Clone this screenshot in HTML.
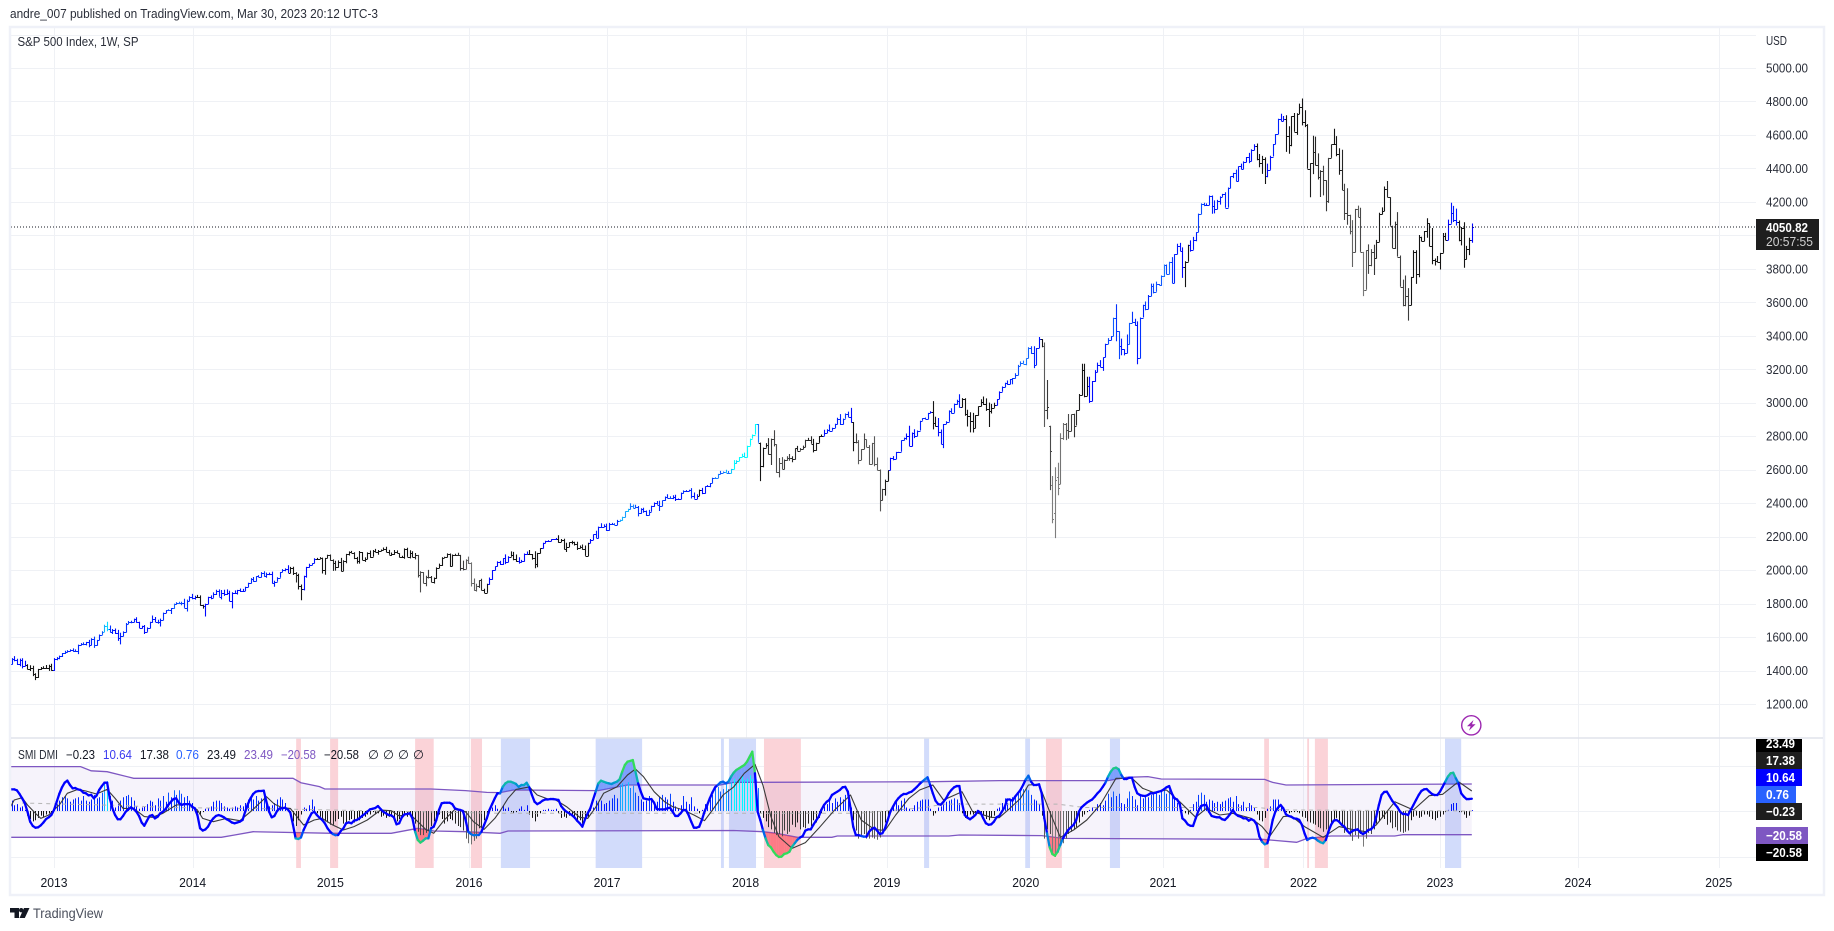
<!DOCTYPE html>
<html lang="en">
<head>
<meta charset="utf-8">
<title>S&amp;P 500 Index, 1W, SP</title>
<style>
html,body{margin:0;padding:0;background:#fff;width:1834px;height:931px;overflow:hidden}
svg{display:block;font-family:"Liberation Sans",sans-serif}
</style>
</head>
<body>
<svg id="chart" xmlns="http://www.w3.org/2000/svg" width="1834" height="931" viewBox="0 0 1834 931">
<defs>
<clipPath id="pane-clip"><rect x="11" y="28" width="1745" height="840"/></clipPath>
</defs>
<rect x="0" y="0" width="1834" height="931" fill="#ffffff"/>
<text x="10" y="18" font-size="13" fill="#2a2e39" textLength="368" lengthAdjust="spacingAndGlyphs">andre_007 published on TradingView.com, Mar 30, 2023 20:12 UTC-3</text>
<g id="grid-layer"></g>
<g id="shade-layer" clip-path="url(#pane-clip)"></g>
<g id="band-layer" clip-path="url(#pane-clip)"></g>
<g id="hist-layer" clip-path="url(#pane-clip)"></g>
<g id="line-layer" clip-path="url(#pane-clip)"></g>
<g id="price-layer" clip-path="url(#pane-clip)"></g>
<line x1="11" y1="227" x2="1756" y2="227" stroke="#131722" stroke-width="1" stroke-dasharray="1 2"/>
<rect x="10" y="27" width="1814" height="868" fill="none" stroke="#eff1f8" stroke-width="2.5"/>
<line x1="11" y1="738" x2="1823" y2="738" stroke="#e0e3eb" stroke-width="1.5"/>
<text x="17.5" y="46" font-size="13" fill="#2a2e39" textLength="121" lengthAdjust="spacingAndGlyphs">S&amp;P 500 Index, 1W, SP</text>
<text x="1766" y="45" font-size="12.5" fill="#2a2e39" textLength="21" lengthAdjust="spacingAndGlyphs">USD</text>
<g id="price-axis"></g>
<g id="time-axis"></g>

<g>
<rect x="1756" y="219" width="63" height="31" fill="#1e1e1e"/>
<text x="1766" y="232" font-size="12.5" font-weight="bold" fill="#ffffff" textLength="42" lengthAdjust="spacingAndGlyphs">4050.82</text>
<text x="1766" y="246" font-size="12.5" fill="#d0d0d0" textLength="47" lengthAdjust="spacingAndGlyphs">20:57:55</text>
</g>

<g font-size="12.5">
<text x="18" y="759" fill="#2a2e39" textLength="40" lengthAdjust="spacingAndGlyphs">SMI DMI</text>
<text x="66" y="759" fill="#131722" textLength="29" lengthAdjust="spacingAndGlyphs">−0.23</text>
<text x="103" y="759" fill="#3a3af0" textLength="29" lengthAdjust="spacingAndGlyphs">10.64</text>
<text x="140" y="759" fill="#131722" textLength="29" lengthAdjust="spacingAndGlyphs">17.38</text>
<text x="176" y="759" fill="#2962ff" textLength="23" lengthAdjust="spacingAndGlyphs">0.76</text>
<text x="207" y="759" fill="#131722" textLength="29" lengthAdjust="spacingAndGlyphs">23.49</text>
<text x="244" y="759" fill="#7e57c2" textLength="29" lengthAdjust="spacingAndGlyphs">23.49</text>
<text x="281" y="759" fill="#7e57c2" textLength="35" lengthAdjust="spacingAndGlyphs">−20.58</text>
<text x="324" y="759" fill="#131722" textLength="35" lengthAdjust="spacingAndGlyphs">−20.58</text>
<text x="368" y="759" fill="#131722">∅</text>
<text x="383" y="759" fill="#131722">∅</text>
<text x="398" y="759" fill="#131722">∅</text>
<text x="413" y="759" fill="#131722">∅</text>
</g>

<g font-size="13" font-weight="bold" fill="#ffffff">
<rect x="1756" y="739" width="46" height="13" fill="#000000"/>
<text x="1766" y="748" textLength="29" lengthAdjust="spacingAndGlyphs" fill="#ffffff">23.49</text>
<rect x="1756" y="752" width="46" height="17" fill="#1e1e1e"/>
<text x="1766" y="765" textLength="29" lengthAdjust="spacingAndGlyphs" fill="#ffffff">17.38</text>
<rect x="1756" y="769" width="46" height="17" fill="#0000ff"/>
<text x="1766" y="782" textLength="29" lengthAdjust="spacingAndGlyphs" fill="#ffffff">10.64</text>
<rect x="1756" y="786" width="40" height="17" fill="#2962ff"/>
<text x="1766" y="799" textLength="23" lengthAdjust="spacingAndGlyphs" fill="#ffffff">0.76</text>
<rect x="1756" y="803" width="46" height="17" fill="#1e1e1e"/>
<text x="1766" y="816" textLength="29" lengthAdjust="spacingAndGlyphs" fill="#ffffff">−0.23</text>
<rect x="1756" y="827" width="52" height="17" fill="#7e57c2"/>
<text x="1766" y="840" textLength="36" lengthAdjust="spacingAndGlyphs" fill="#ffffff">−20.58</text>
<rect x="1756" y="844" width="52" height="17" fill="#000000"/>
<text x="1766" y="857" textLength="36" lengthAdjust="spacingAndGlyphs" fill="#ffffff">−20.58</text>
</g>

<g>
<circle cx="1471.3" cy="725.3" r="9.6" fill="#ffffff" stroke="#9c27b0" stroke-width="1.4"/>
<polygon points="1473.5,720 1467,726.3 1470.6,726.3 1469,730.6 1475.6,724.3 1472,724.3" fill="#9c27b0"/>
</g>

<g>
<polygon points="10,908 19,908 19,918 14.5,918 14.5,912.5 10,912.5" fill="#131722"/>
<circle cx="21.2" cy="910.2" r="2.2" fill="#131722"/>
<polygon points="24,908 29.5,908 24.8,918 19.5,918" fill="#131722"/>
<text x="33" y="918" font-size="14" fill="#4a4f5c" textLength="70" lengthAdjust="spacingAndGlyphs">TradingView</text>
</g>
</svg>

<script>
// Weekly bars, first week ends 2012-09-07, 13 values per row (one quarter of a year).
const closes = [
1437,1466,1460,1441,1461,1428,1433,1412,1414,1379,1360,1409,1416,
1418,1413,1430,1402,1466,1472,1486,1503,1513,1518,1520,1516,1518,
1551,1561,1556,1569,1553,1588,1555,1582,1614,1633,1667,1650,1631,
1643,1626,1593,1606,1631,1680,1692,1692,1710,1691,1656,1664,1633,
1655,1688,1710,1692,1691,1703,1745,1760,1762,1771,1798,1804,1806,
1805,1775,1818,1841,1831,1842,1839,1790,1783,1797,1839,1836,1859,
1878,1841,1866,1857,1865,1816,1864,1863,1881,1878,1877,1900,1923,
1949,1936,1962,1961,1985,1967,1978,1978,1925,1931,1955,1988,2003,
2007,1985,2010,1982,1968,1906,1886,1965,2018,2032,2040,2064,2068,
2075,2002,2070,2089,2058,2045,2019,2051,1995,2055,2097,2110,2104,
2071,2053,2108,2061,2066,2102,2081,2117,2108,2116,2122,2126,2107,
2092,2094,2110,2101,2076,2076,2126,2079,2104,2077,2091,1971,1988,
1921,1961,1958,1931,1951,2014,2033,2075,2079,2099,2023,2089,2090,
2091,2012,2005,2060,2043,1922,1880,1906,1940,1880,1865,1917,1948,
1999,2022,2049,2035,2072,2047,2081,2091,2065,2057,2046,2052,2099,
2099,2096,2071,2037,2103,2130,2162,2175,2174,2183,2184,2184,2169,
2180,2128,2139,2165,2168,2154,2133,2141,2126,2085,2164,2182,2213,
2192,2260,2258,2264,2239,2277,2275,2271,2295,2297,2316,2351,2367,
2383,2373,2378,2344,2363,2356,2329,2349,2384,2399,2391,2382,2416,
2439,2432,2433,2438,2423,2425,2459,2473,2472,2477,2441,2426,2444,
2477,2461,2500,2502,2519,2549,2553,2575,2581,2588,2582,2578,2602,
2642,2652,2675,2683,2673,2743,2786,2810,2873,2762,2620,2732,2747,
2691,2786,2752,2588,2640,2604,2656,2670,2669,2663,2728,2713,2721,
2735,2779,2780,2755,2718,2760,2801,2802,2819,2840,2833,2850,2875,
2902,2872,2905,2930,2914,2885,2767,2767,2658,2723,2781,2736,2632,
2760,2633,2600,2416,2485,2531,2596,2671,2664,2706,2707,2775,2792,
2803,2743,2822,2800,2834,2892,2907,2905,2939,2945,2881,2859,2826,
2752,2873,2886,2950,2941,2990,3013,2976,3025,2932,2918,2888,2847,
2926,2978,3007,2992,2961,2952,2970,2986,3022,3066,3093,3120,3110,
3140,3145,3168,3221,3240,3234,3265,3329,3295,3225,3327,3380,3337,
2954,2972,2711,2304,2541,2488,2790,2875,2837,2830,2930,2864,2955,
3044,3194,3041,3098,3009,3130,3185,3225,3215,3271,3351,3373,3397,
3508,3427,3341,3319,3298,3348,3477,3484,3465,3270,3509,3585,3558,
3638,3699,3663,3709,3703,3756,3825,3768,3841,3714,3887,3935,3906,
3811,3842,3943,3913,3975,4019,4129,4185,4180,4181,4233,4174,4156,
4204,4230,4247,4166,4281,4352,4370,4327,4412,4395,4437,4468,4442,
4509,4535,4459,4432,4455,4357,4391,4471,4545,4605,4697,4682,4698,
4594,4538,4712,4620,4725,4766,4677,4662,4398,4431,4500,4418,4349,
4385,4329,4204,4463,4543,4546,4488,4392,4272,4132,4123,4024,3901,
4158,4109,3901,3675,3912,3825,3899,3863,3961,4130,4145,4280,4228,
4058,3924,4067,3873,3693,3586,3640,3583,3752,3901,3770,3992,3965,
4026,4072,3934,3852,3845,3839,3895,3999,3972,4070,4136,4090,4079,
3970,4045,3861,3917,3971,4050.82];

// Opens differ visibly from the prior close only in these crash weeks.
const openGapWeeks = [392,393,394,395,396];
const openGapValues = [2863,2509,2344,2558,2514];

// How far each week's high rises above its body.
const highWick = [
3,8,20,10,10,12,25,5,18,15,5,1,5,
8,15,5,10,8,8,3,2,5,3,6,12,8,
4,3,7,2,14,5,15,1,1,2,6,24,19,
5,8,17,20,3,4,4,5,0,8,0,3,8,
3,4,19,10,11,7,1,0,3,2,2,4,5,
5,24,6,3,17,5,10,10,3,2,2,10,8,
5,7,15,17,20,12,4,15,1,9,10,1,2,
3,10,1,7,3,8,7,7,13,5,2,1,3,
3,22,9,10,6,10,8,1,1,6,1,7,5,
3,0,3,3,4,6,11,7,22,4,0,2,5,
3,8,6,0,10,4,15,3,10,4,1,9,13,
14,11,10,8,0,10,4,7,15,9,11,0,5,
0,5,40,7,5,2,6,2,1,1,0,4,8,
13,0,45,4,21,3,28,12,0,8,9,2,8,
1,0,3,6,0,22,2,21,18,28,20,9,0,
12,21,0,42,0,1,1,1,3,1,1,8,24,
6,7,25,1,7,1,15,6,12,21,0,4,0,
22,0,20,9,14,5,5,5,5,5,3,0,0,
17,9,12,5,7,10,0,11,0,5,14,23,0,
1,14,8,9,12,3,4,3,5,3,13,23,9,
4,14,0,6,1,3,2,0,12,1,12,10,3,
15,4,1,12,19,0,0,0,0,0,0,0,12,
42,0,50,0,30,35,5,10,24,11,0,14,8,
9,0,10,20,29,1,0,8,20,2,30,0,0,
8,30,0,6,17,55,0,49,10,0,35,0,11,
0,40,40,1,0,10,0,0,10,0,0,0,0,
13,60,0,20,0,0,0,4,0,4,65,35,50,
14,0,4,4,17,5,5,38,3,2,26,25,51,
0,0,14,30,34,40,23,14,0,2,4,0,13,
2,2,8,5,7,12,1,3,9,42,0,13,0,
23,164,0,53,74,84,28,4,4,96,0,4,0,
8,39,39,57,57,0,10,15,30,0,1,13,1,
0,80,0,42,1,60,0,60,18,21,0,0,20,
6,13,13,15,0,4,1,1,1,29,0,15,20,
22,3,1,27,16,0,1,6,10,10,5,5,35,
8,3,1,11,5,0,3,23,0,17,5,0,25,
5,10,14,27,20,11,38,5,1,0,0,30,15,
20,58,0,19,5,21,52,70,3,0,95,90,72,
4,31,0,0,0,91,47,33,120,36,150,0,67,
0,20,56,0,0,34,19,45,12,5,22,12,45,
0,0,15,72,7,43,120,45,0,10,10,10,0,
0,30,0,110,10,32,0,15,16,24,59,40,70,
10,5,33,20,15,20];

// How far each week's low falls below its body.
const lowWick = [
5,1,4,8,15,15,2,5,15,12,17,4,5,
4,3,15,3,4,5,5,5,4,5,4,4,4,
20,1,4,6,14,3,20,6,1,1,3,15,4,
13,7,16,37,2,3,2,9,4,5,2,5,15,
2,3,3,2,12,28,2,1,1,24,2,4,1,
15,1,22,4,5,7,3,3,13,60,0,10,2,
8,0,16,11,5,2,45,4,9,9,7,2,2,
3,5,4,3,5,7,13,8,5,25,1,1,1,
10,2,4,11,42,22,66,7,10,3,3,0,0,
1,22,30,0,1,50,22,4,3,1,14,10,1,
5,14,14,1,12,1,7,1,1,16,3,4,0,
0,7,3,1,0,0,8,0,9,0,13,15,104,
0,18,8,4,11,3,2,8,3,3,3,0,0,
3,15,7,0,6,20,3,8,12,1,2,1,4,
5,1,1,4,4,11,0,1,6,7,7,1,1,
3,3,8,26,20,4,1,1,5,1,3,3,5,
1,4,20,1,11,7,13,3,4,0,1,3,2,
1,3,5,1,5,3,3,1,2,5,2,1,3,
5,5,2,23,7,13,5,3,0,5,1,29,1,
1,3,1,9,10,3,2,2,1,1,13,0,1,
1,7,4,0,7,0,0,3,3,0,0,3,0,
0,6,0,0,0,0,0,0,0,1,88,5,1,
0,63,13,6,34,2,2,2,15,19,3,0,0,
0,1,2,0,15,5,0,0,0,0,3,0,1,
5,5,2,1,0,5,57,10,25,0,0,1,2,
0,12,4,65,0,40,0,0,8,0,0,0,0,
13,2,4,11,0,0,0,3,4,2,40,1,27,
0,23,0,0,5,2,1,5,4,10,60,65,25,
0,3,0,5,10,97,16,1,2,0,0,1,2,
0,30,0,4,1,0,10,0,3,18,0,0,5,
99,53,233,24,153,41,0,12,60,45,0,70,0,
0,0,8,0,10,0,5,3,2,25,0,0,0,
0,60,80,35,15,2,0,0,5,40,5,0,5,
0,2,10,0,0,5,5,0,1,0,0,0,0,
65,120,0,10,0,10,0,3,5,0,0,45,25,
0,20,0,1,0,0,10,5,5,0,0,0,10,
0,1,10,25,65,50,10,0,0,0,0,0,0,
95,50,5,1,20,0,20,15,0,170,65,0,15,
120,90,60,10,0,0,15,30,1,40,60,18,90,
3,0,0,38,0,55,10,100,2,0,5,0,0,
0,0,5,0,0,9,10,92,0,5,60,20,0,
0,40,0,25,25,0,43,0,0,0,0,10,20,
5,30,55,5,35,15];

// SMI line, one value per week.
const smiValues = [
18.8,18.8,18.8,18,14.8,11,6.7,-0.6,-9.3,-13,-14.5,-14.2,-12.5,
-10,-7,-5.5,-3.5,1,8,15,20.6,24.6,26.4,22.6,19.7,20,
18.8,18.3,16,15.4,13.6,14,11,13.3,18.3,21.7,24.6,24.6,11,
2.3,-3.5,-7.2,-7.2,-4.3,-0.6,1.4,3.2,1.7,-0.6,-4.3,-10,-12.8,
-8.4,-4.3,-3.5,-6.4,-5,-2,-0.6,1.7,5.2,8,10.4,11,7.2,
5.2,6,6,6,3.8,2.3,-3.5,-15,-17,-16,-13.6,-9.3,-6.4,
-4.3,-3.5,-4.3,-5.5,-7.2,-8.4,-10,-10.7,-10,-9.3,-7.8,-0.6,6,
11,14.8,16.8,17.4,17.4,17.7,8,-0.6,-5.5,-4.3,0,2.3,2.3,
2.9,1.4,-1.4,-12,-23.8,-24.3,-23,-16.5,-11.6,-6.4,-2,-0.6,-3.5,
-5.8,-7.8,-10.7,-15,-18,-20,-21,-20.9,-17.4,-15,-10.7,-9.9,-10.7,
-8.4,-7.8,-6.4,-4.3,-2.6,-0.6,1.4,2,2.6,4.3,1.7,-0.6,-2,
-3.5,-3.8,-5.5,-11.6,-10.7,-5.5,-2.9,-2.6,-2,-6.4,-18,-25.2,-27.5,
-25.8,-23.8,-23.8,-15,-13.6,-7.8,0.9,6.7,7.2,7.2,7.2,6,2.3,
1.4,0.9,0,-7.8,-18,-20,-21,-20.9,-20.9,-18,-12,-6.4,0.9,
6,11,15.4,15.4,21,24,25.5,25.5,24.6,23.5,21,22.6,22.6,
24.6,20.6,13.9,8,6,7.2,9,10,10,10.4,10.4,10,9.6,
4.3,1.4,-0.6,-2,-3.5,-5.5,-8.4,-10.7,-13.6,-7.2,-2,2.3,9.6,
16.8,24,26.4,25.5,24.6,24,23.5,24.6,25.5,27.5,34.2,40,42.9,
43.5,44.3,34.2,24,16.8,11,10.4,10,10.4,7.2,1.7,1.4,1.4,
1.4,2.3,2.9,-0.6,-4.3,-4.3,-2,0.9,0.9,-3.5,-9.3,-14.5,-14.5,
-13.6,-7.8,-0.6,5.2,11,16.2,20.6,22.6,24.9,25.5,24,25.5,29.9,
33.3,35.7,37.1,38.6,40,42.9,47.2,51.6,32.8,-0.6,-7.8,-16.5,-23.8,
-29.6,-31.6,-35.4,-38.3,-40,-39.7,-37.4,-36.8,-35.4,-31,-28,-25,-23,
-21.7,-17,-16,-16,-12,-8.4,-5,0.9,5.2,8,9.6,13.9,15.4,
16.8,18.3,20.6,21,16.8,2.3,-13.6,-20.9,-21,-21.7,-22.3,-22.3,-18,
-15.7,-14.5,-17,-20,-19.4,-15,-7.8,-0.6,3.8,8,11,13.3,14.8,
14.8,16,16.8,18.8,21,23.5,25.5,27.5,29.3,22.6,15.4,9,6,
5.5,8,11,15.4,18.3,20.6,21.7,21.7,6.7,-3.5,-5.8,-7.2,-5.5,
-3.5,0,-1.4,-6.4,-10.7,-12,-11.6,-9.3,-5.5,-4.3,-0.6,3.2,10,
10,9,12.5,15.4,18.3,22.6,27.5,30.7,25.5,22.6,22.6,23.2,15.4,
-6.4,-19.4,-31.6,-37.4,-38.8,-35.4,-29.6,-23.8,-20,-16.5,-14.2,-12,-7.8,
-0.6,3.2,5.2,7.2,8.7,10,12.5,15.4,17.7,21,24.6,29.9,34.2,
37,37.7,36.2,31.3,27.8,27.8,29,29,21,15.4,13.9,13.3,13,
13.9,15.4,15.4,16,16.8,17.4,18.8,20.6,21.7,15.4,11,10,6,
-6.4,-8.4,-11.6,-12.8,-13,-6.4,0,4.3,5.2,5.2,-0.6,-4.3,-5,
-5.5,-5.5,-7.2,-7.8,-5.5,-2.6,0.9,-2.6,-4.3,-5,-6.4,-6.4,-8.4,
-7.2,-8.4,-12,-22.3,-26.7,-29,-28,-19.4,-7.8,-0.6,2.9,5.2,2.3,
-2.9,-4.3,-5,-6.4,-6.7,-7.8,-12,-19.4,-25.2,-23.8,-23.2,-23.8,-25.8,
-27.2,-28,-25.2,-18,-12,-8.4,-7.8,-9.3,-12,-13.6,-17,-19.4,-17.4,
-16.5,-16,-18.5,-20,-18.8,-16.5,-16,-13.6,-5,5.2,13.9,16.5,16.8,
13,9,6,3.2,-0.6,-2.6,-2.6,-3.5,0.9,5.2,9.6,13.9,17.4,
18.8,19.1,16.8,14.8,13.9,13.9,16.8,21,25.5,29.9,32.8,33.3,28.4,
24,15.4,12.5,10.4,10.4,10.64];

// Histogram, one value per week.
const histValues = [
11,9,5,6,3,4,1,-4,-7,-9,-8,-6,-4,
-5,-3,-2,-1,3,6,9,12,13,11,8,10,11,
12,9,13,9,8,10,14,11,12,16,24,26,13,
9,3,6,9,12,13,14,12,9,4,2,3,4,
6,9,8,5,11,9,13,8,16,12,18,14,18,
15,12,13,9,7,3,-2,-3,-1,2,3,4,8,
9,9,7,4,3,2,3,4,3,5,4,7,10,
12,10,13,9,11,13,8,4,5,7,10,12,10,
7,2,-4,-9,-13,-8,-3,3,2,5,10,4,-2,
-5,-8,-9,-10,-12,-12,-9,-7,-5,-11,-10,-8,-7,
-10,-7,-8,-6,-5,-3,-3,-1,-3,-2,-5,-4,-6,
-5,-5,-6,-9,-7,-6,-3,-5,-2,-6,-11,-18,-21,
-21,-19,-17,-13,-9,-6,-3,-7,-11,-9,-7,-8,-11,
-13,-14,-17,-24,-28,-29,-26,-24,-15,-14,-8,-5,2,
3,5,2,1,5,2,3,-1,-2,-1,2,4,1,
5,-3,-6,-9,-5,-2,1,1,2,1,1,2,-2,
-6,-5,-6,-4,-3,-7,-9,-8,-11,-7,-5,2,3,
9,7,9,6,7,9,11,14,11,23,24,23,25,
20,22,16,13,10,8,9,13,10,5,8,12,14,
12,10,15,8,4,2,5,13,8,6,12,4,2,
-2,1,6,7,10,14,20,21,17,19,24,19,25,
28,26,29,31,27,28,31,28,29,20,-2,-6,-9,
-14,-16,-19,-21,-20,-22,-17,-20,-18,-12,-14,-10,-16,
-14,-15,-11,-13,-8,-10,-6,-2,4,6,9,7,11,
8,12,10,14,9,3,-8,-17,-24,-22,-20,-24,-24,
-23,-24,-25,-23,-17,-10,-4,1,5,8,5,9,11,
3,2,1,5,8,9,10,10,10,2,-4,-2,3,
4,6,8,9,10,11,10,7,-2,-6,-6,-3,-3,
-1,-2,-3,-4,-7,-8,-6,-4,2,3,7,11,7,
9,12,14,16,18,19,20,18,14,10,9,6,-4,
-24,-16,-20,-38,-40,-36,-30,-28,-24,-20,-18,-16,-14,
-10,-5,-3,-1,1,3,2,6,7,5,9,15,12,
17,13,15,7,6,11,17,13,10,5,13,11,14,
12,14,15,16,14,17,20,15,18,13,11,7,5,
1,-2,-3,1,6,8,14,16,14,8,10,9,7,
8,6,8,9,11,12,8,13,6,5,8,3,7,
5,3,-3,-8,-9,-6,2,4,10,10,10,4,2,
-1,-2,-1,-1,-1,-2,-5,-6,-9,-10,-11,-12,-14,
-15,-18,-16,-18,-12,-8,-6,-9,-12,-19,-18,-22,-26,
-21,-24,-20,-31,-24,-19,-20,-16,-11,-9,-6,-7,-12,
-10,-15,-14,-17,-18,-19,-18,-17,-8,-5,-4,-6,-5,
-3,-3,-5,-7,-8,-6,-5,-3,-1,1,6,7,7,
-1,-1,-3,-6,-4,0.76];

// Signal line readings.
const signalWeeks = [0,2,5,7,10,12,15,19,22,26,29,33,37,40,43,47,51,54,58,63,68,71,73,77,82,87,91,95,97,100,103,106,108,111,115,118,122,126,130,135,140,144,147,151,154,157,160,164,168,172,175,179,183,185,188,191,196,199,203,206,210,215,218,221,224,229,233,236,239,243,247,250,254,258,262,265,269,273,277,281,284,287,290,295,300,305,311,317,321,326,330,334,339,343,348,352,359,363,370,373,377,381,384,388,392,396,401,406,411,417,423,427,431,436,441,447,451,456,461,468,472,475,480,483,488,495,501,506,511,515,522,529,535,540,546,551];
const signalValues = [0.9,9.6,11.6,5.2,-2,-6.4,-3.5,5.2,15.4,18.8,17.4,14.8,18.8,11,2.3,2.3,-4.9,-5.5,-2,5.2,6,0.9,-6.4,-9.3,-6.4,-8.4,-0.6,8,12.5,6,2.9,2.3,-3.5,-12.2,-7.8,-6.4,-12.2,-16.5,-13.6,-7.8,0.9,0.3,-4.3,-2.6,-9.3,-16,-19.4,-7.8,1.4,-0.6,-9.3,-16,-6.4,0,11,18.8,21,13.9,10.4,9.6,3.8,-5.5,-6.4,3.2,15.4,21,31.3,36.5,29.9,16.8,8,3.8,0.9,-3.5,-8.4,0.9,13.9,21,32.8,40.6,22.6,-4.9,-22.3,-32.5,-27.5,-15,0.9,13.9,-7.8,-16,-17,-3.5,11,18.3,22.6,9.6,16.8,-0.6,-5.5,-5.8,2.3,11,22.6,23.2,-0.6,-22.9,-16.5,-7.8,5.2,28.4,28.4,19.7,16.2,18.3,8,-5.5,2.3,-3.5,-2,-6.4,-13.6,-21.7,-4.9,-4.3,-13.6,-22.9,-13.6,-16,-18,-12.2,8,0.9,13.3,14.5,25.5,17.38];

// Upper band readings.
const upperWeeks = [0,27,31,37,47,107,110,117,119,159,172,180,185,190,222,233,268,273,348,373,414,421,429,434,473,476,481,551];
const upperValues = [38.6,38.6,35,34.2,28.4,28.4,24.6,21.2,19.1,19.1,17.7,16.2,16,18.3,17.7,22.6,22.6,24.9,25.5,26.4,26.4,29.3,29.9,27.8,27.5,24.9,22.6,23.49];

// Lower band readings.
const lowerWeeks = [0,80,85,92,122,144,154,160,172,185,188,273,284,289,297,310,312,354,358,389,397,472,485,489,498,522,525,551];
const lowerValues = [-22.9,-22.9,-20.9,-18,-19.4,-19.4,-15,-17.4,-18,-19.4,-17.4,-17,-18,-19.4,-22.9,-22.9,-21.7,-21.7,-20.9,-21.4,-23.8,-24.6,-27.2,-23.8,-21.7,-21.7,-20.58,-20.58];

// Dashed gray baseline readings.
const dashWeeks = [5,40,60,97,120,185,320,345,352,373,395,405,470,480,551];
const dashValues = [7,5,3,2,1,-2,-2,3,6,6,6,3,3,1,0];

// Background signal periods, in week positions.
const shadeStarts = [108.2,121,153,174,185.3,221,268.2,271.2,284.4,344.7,382.8,390.6,414.7,472.8,489,491.9,540.9];
const shadeEnds = [110,124,160,178.2,196.3,238.5,269.3,281.4,298.3,346.6,384.6,396.6,418.5,474.6,489.7,496.8,547];
const shadeKinds = ["sell","sell","sell","sell","buy","buy","buy","buy","sell","buy","buy","sell","buy","sell","sell","sell","buy"];

// Axis ticks.
const priceTicks = [1200,1400,1600,1800,2000,2200,2400,2600,2800,3000,3200,3400,3600,3800,4000,4200,4400,4600,4800,5000];
const priceGridExtra = [5200];
const indicatorTicks = [39,0,-40];
const yearLabels = ["2013","2014","2015","2016","2017","2018","2019","2020","2021","2022","2023","2024","2025"];
const yearWeeks = [17,69.2,121.1,173.3,225.3,277.5,330.7,383,434.7,487.6,539,591,644];

// Axis functions.
const NS = "http://www.w3.org/2000/svg";
function xAt(week){ return 8.9 + week * 2.655; }
function yPrice(v){ return 68 + (5000 - v) * 0.16737; }
function yInd(v){ return 811 - v * 1.15; }
function snap(v){ return Math.round(v) + 0.5; }

function make(tag, parent, attrs){
  const el = document.createElementNS(NS, tag);
  for (const k in attrs) el.setAttribute(k, attrs[k]);
  parent.appendChild(el);
  return el;
}
function readAt(weeks, values, w){
  if (w <= weeks[0]) return values[0];
  for (let k = 1; k < weeks.length; k++){
    if (w <= weeks[k]){
      const t = (w - weeks[k-1]) / (weeks[k] - weeks[k-1]);
      return values[k-1] + t * (values[k] - values[k-1]);
    }
  }
  return values[values.length - 1];
}
function mix(a, b, t){
  t = Math.max(0, Math.min(1, t));
  const c = a.map((v, i) => Math.round(v + (b[i] - v) * t));
  return "rgb(" + c.join(",") + ")";
}
function histColor(h){
  if (h >= 0){
    if (h < 12) return mix([0,0,255],[0,40,255], h / 12);
    if (h < 22) return mix([0,40,255],[30,140,255], (h - 12) / 10);
    return mix([30,140,255],[0,255,255], (h - 22) / 6);
  }
  return mix([20,20,20],[125,125,125], (-h - 8) / 24);
}
function smiColor(excess){
  if (excess <= 0) return "#0000ff";
  if (excess < 5) return mix([0,60,255],[0,170,200], excess / 5);
  return mix([0,170,200],[50,220,90], (excess - 5) / 8);
}

const gridLayer = document.getElementById("grid-layer");
const priceAxis = document.getElementById("price-axis");
const timeAxis = document.getElementById("time-axis");
const shadeLayer = document.getElementById("shade-layer");
const bandLayer = document.getElementById("band-layer");
const histLayer = document.getElementById("hist-layer");
const lineLayer = document.getElementById("line-layer");
const priceLayer = document.getElementById("price-layer");

// Grid and axes.
priceTicks.concat(priceGridExtra).forEach(function(v){
  const y = snap(yPrice(v));
  const ln = make("line", gridLayer, {x1:11, x2:1756, y1:y, y2:y, stroke:"#eff1f5", "stroke-width":1});
  
  
});
indicatorTicks.forEach(function(v){
  const y = snap(yInd(v));
  const ln = make("line", gridLayer, {x1:11, x2:1756, y1:y, y2:y, stroke:"#eff1f5", "stroke-width":1});
  
  
});
yearWeeks.forEach(function(w, k){
  const x = snap(xAt(w));
  const ln = make("line", gridLayer, {x1:x, x2:x, y1:28, y2:868, stroke:"#eff1f5", "stroke-width":1});
  
  
  const t = make("text", timeAxis, {x:xAt(w), y:887, "font-size":13, fill:"#131722", "text-anchor":"middle", textLength:27, lengthAdjust:"spacingAndGlyphs"});
  t.textContent = yearLabels[k];
  
  
});
priceTicks.forEach(function(v){
  const t = make("text", priceAxis, {x:1766, y:yPrice(v) + 4.5, "font-size":12.5, fill:"#2a2e39", textLength:42, lengthAdjust:"spacingAndGlyphs"});
  t.textContent = v.toFixed(2);
  
  
});

// Signal shading.
shadeStarts.forEach(function(s, k){
  const r = make("rect", shadeLayer, {x:xAt(s), y:738, width:xAt(shadeEnds[k]) - xAt(s), height:130, fill: shadeKinds[k] === "buy" ? "#d2dcfb" : "#fbd3d8"});
  
  
});

// Bands.
(function(){
  const n = smiValues.length;
  let top = [], bot = [];
  upperWeeks.forEach(function(w, k){ top.push(xAt(w).toFixed(1) + "," + yInd(upperValues[k]).toFixed(1)); });
  lowerWeeks.forEach(function(w, k){ bot.unshift(xAt(w).toFixed(1) + "," + yInd(lowerValues[k]).toFixed(1)); });
  const fill = make("polygon", bandLayer, {points: top.concat(bot).join(" "), fill:"#7e57c2", "fill-opacity":0.07});
  
  
  const up = make("polyline", bandLayer, {points: top.join(" "), fill:"none", stroke:"#7e57c2", "stroke-width":1.3});
  
  
  const lo = make("polyline", bandLayer, {points: bot.join(" "), fill:"none", stroke:"#7e57c2", "stroke-width":1.3});
  
  
  for (let i = 0; i < n - 1; i++){
    const a = smiValues[i], b = smiValues[i+1];
    const ua = readAt(upperWeeks, upperValues, i), ub = readAt(upperWeeks, upperValues, i+1);
    const la = readAt(lowerWeeks, lowerValues, i), lb = readAt(lowerWeeks, lowerValues, i+1);
    if (a > ua || b > ub){
      const p = make("polygon", bandLayer, {points:[xAt(i),yInd(Math.max(a,ua)),xAt(i+1),yInd(Math.max(b,ub)),xAt(i+1),yInd(ub),xAt(i),yInd(ua)].join(" "), fill:"#2962ff", "fill-opacity":0.5});
      
      
    }
    if (a < la || b < lb){
      const p = make("polygon", bandLayer, {points:[xAt(i),yInd(Math.min(a,la)),xAt(i+1),yInd(Math.min(b,lb)),xAt(i+1),yInd(lb),xAt(i),yInd(la)].join(" "), fill:"#ff3344", "fill-opacity":0.55});
      
      
    }
  }
})();

// Histogram.
histValues.forEach(function(h, i){
  const x = snap(xAt(i));
  const ln = make("line", histLayer, {x1:x, x2:x, y1:811, y2:yInd(h), stroke:histColor(h), "stroke-width":1});
  
  
});

// Dashed baseline, signal and SMI lines.
(function(){
  const dash = make("polyline", lineLayer, {points: dashWeeks.map(function(w, k){ return xAt(w).toFixed(1) + "," + yInd(dashValues[k]).toFixed(1); }).join(" "), fill:"none", stroke:"#b4b4b4", "stroke-width":1, "stroke-dasharray":"4 4"});
  
  
  const sig = make("polyline", lineLayer, {points: signalWeeks.map(function(w, k){ return xAt(w).toFixed(1) + "," + yInd(signalValues[k]).toFixed(1); }).join(" "), fill:"none", stroke:"#3a3a3a", "stroke-width":1.1, "stroke-linejoin":"round"});
  
  
  for (let i = 0; i < smiValues.length - 1; i++){
    const a = smiValues[i], b = smiValues[i+1];
    const over = Math.max((a + b) / 2 - readAt(upperWeeks, upperValues, i + .5), readAt(lowerWeeks, lowerValues, i + .5) - (a + b) / 2);
    const seg = make("line", lineLayer, {x1:xAt(i), y1:yInd(a), x2:xAt(i+1), y2:yInd(b), stroke:smiColor(over), "stroke-width":2.3, "stroke-linecap":"round"});
    
    
  }
})();

// OHLC bars.
closes.forEach(function(c, i){
  const gap = openGapWeeks.indexOf(i);
  const o = gap >= 0 ? openGapValues[gap] : (i > 0 ? closes[i-1] : 1404);
  const hi = Math.max(o, c) + (highWick[i] || 0);
  const lo = Math.min(o, c) - (lowWick[i] || 0);
  const x = snap(xAt(i));
  const d = "M" + x + " " + yPrice(hi).toFixed(1) + "V" + yPrice(lo).toFixed(1) +
            "M" + (x - 1.5) + " " + snap(yPrice(o)) + "H" + x +
            "M" + x + " " + snap(yPrice(c)) + "H" + (x + 1.5);
  const bar = make("path", priceLayer, {d:d, fill:"none", stroke:histColor(histValues[i]), "stroke-width":1.1});
  
  
});
</script>
</body>
</html>
